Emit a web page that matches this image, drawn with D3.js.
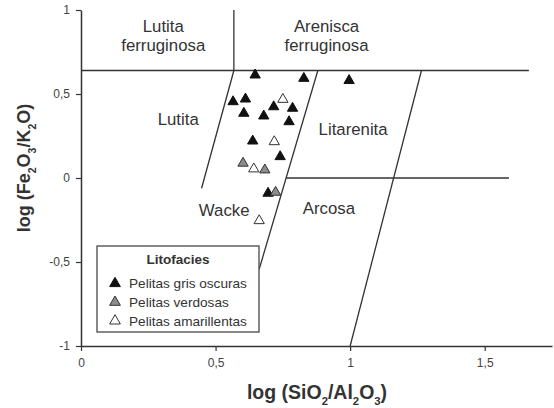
<!DOCTYPE html>
<html><head><meta charset="utf-8">
<script src="https://cdn.jsdelivr.net/npm/d3@7"></script>
<style>body{margin:0;background:#fff} svg{display:block;font-family:"Liberation Sans",Arial,sans-serif}</style>
</head><body><svg id="c" width="554" height="408"></svg>
<script>
const xTicks = [0, 0.5, 1, 1.5];
const xTickLabels = ["0", "0,5", "1", "1,5"];
const yTicks = [1, 0.5, 0, -0.5, -1];
const yTickLabels = ["1", "0,5", "0", "-0,5", "-1"];
const seriesNames = ["Pelitas gris oscuras", "Pelitas verdosas", "Pelitas amarillentas"];

const grisX = [0.647, 0.828, 0.996, 0.565, 0.611, 0.605, 0.679, 0.716, 0.786, 0.773, 0.638, 0.740, 0.695];
const grisY = [0.613, 0.593, 0.580, 0.454, 0.470, 0.385, 0.369, 0.424, 0.415, 0.335, 0.220, 0.127, -0.091];
const verdX = [0.602, 0.683, 0.723];
const verdY = [0.088, 0.048, -0.085];
const amarX = [0.750, 0.718, 0.642, 0.662];
const amarY = [0.468, 0.216, 0.054, -0.254];

// classification field boundaries (data units)
const boundaries = [
  [[0, 0.64], [1.664, 0.64]],
  [[0.568, 1], [0.568, 0.64]],
  [[0.568, 0.64], [0.448, -0.061]],
  [[0.88, 0.64], [0.662, -0.543]],
  [[1.265, 0.64], [1.0, -1]],
  [[0.762, 0], [1.59, 0]]
];
const regionNames = ["Lutita", "ferruginosa", "Arenisca", "ferruginosa", "Lutita", "Litarenita", "Wacke", "Arcosa"];
const regionX = [0.3056, 0.3056, 0.9123, 0.9123, 0.3613, 1.011, 0.532, 0.921];
const regionY = [0.8667, 0.756, 0.8667, 0.756, 0.3155, 0.256, -0.2244, -0.2143];

const svg = d3.select("#c");
const W = 554, H = 408;
const m = {left: 81, top: 10, right: 2, bottom: 62};
const x = d3.scaleLinear().domain([0, 1.75]).range([m.left, W - m.right]);
const y = d3.scaleLinear().domain([-1, 1]).range([H - m.bottom, m.top]);

// boundaries
const line = d3.line().x(d => x(d[0])).y(d => y(d[1]));
svg.append("g").selectAll("path").data(boundaries).join("path")
  .attr("d", line).attr("fill", "none").attr("stroke", "#333").attr("stroke-width", 1.3);

// region labels
svg.append("g").selectAll("text").data(regionNames).join("text")
  .attr("x", (d, i) => x(regionX[i])).attr("y", (d, i) => y(regionY[i]))
  .attr("text-anchor", "middle").attr("font-size", 16.8).attr("fill", "#333").text(d => d);

// axes
const xAxis = d3.axisBottom(x).tickValues(xTicks).tickFormat((d, i) => xTickLabels[i])
  .tickSizeInner(5).tickSizeOuter(0).tickPadding(7);
const yAxis = d3.axisLeft(y).tickValues(yTicks).tickFormat((d, i) => yTickLabels[i])
  .tickSizeInner(5).tickSizeOuter(0).tickPadding(6);
const gx = svg.append("g").attr("transform", `translate(0,${y(-1)})`).call(xAxis);
const gy = svg.append("g").attr("transform", `translate(${x(0)},0)`).call(yAxis);
[gx, gy].forEach(g => {
  g.select(".domain").attr("stroke", "#333").attr("stroke-width", 1.5);
  g.selectAll(".tick line").attr("stroke", "#333").attr("stroke-width", 1.2);
  g.selectAll(".tick text").attr("fill", "#444").attr("font-size", 12)
    .attr("font-family", "Liberation Sans, Arial, sans-serif");
});

// points
const tri = d3.symbol().type(d3.symbolTriangle).size(46);
function drawSeries(xs, ys, fill, stroke) {
  svg.append("g").selectAll("path").data(xs).join("path")
    .attr("d", tri).attr("transform", (d, i) => `translate(${x(d)},${y(ys[i])})`)
    .attr("fill", fill).attr("stroke", stroke).attr("stroke-width", 1);
}
const styles = [["#111", "#111"], ["#8c8c8c", "#333"], ["#fff", "#333"]];
drawSeries(grisX, grisY, styles[0][0], styles[0][1]);
drawSeries(verdX, verdY, styles[1][0], styles[1][1]);
drawSeries(amarX, amarY, styles[2][0], styles[2][1]);

// legend
const lg = svg.append("g");
lg.append("rect").attr("x", 97).attr("y", 246).attr("width", 162).attr("height", 86)
  .attr("fill", "#fff").attr("stroke", "#555").attr("stroke-width", 1.4);
lg.append("text").attr("x", 178).attr("y", 264).attr("text-anchor", "middle")
  .attr("font-size", 13.5).attr("font-weight", "bold").attr("fill", "#333").text("Litofacies");
seriesNames.forEach((n, i) => {
  const cy = 283.5 + i * 18.7;
  lg.append("path").attr("d", d3.symbol().type(d3.symbolTriangle).size(50)())
    .attr("transform", `translate(115,${cy})`)
    .attr("fill", styles[i][0]).attr("stroke", styles[i][1]).attr("stroke-width", 1);
  lg.append("text").attr("x", 129).attr("y", cy + 4.8).attr("font-size", 13.6)
    .attr("fill", "#333").text(n);
});

// axis titles
const xt = svg.append("text").attr("x", 317).attr("y", 399).attr("text-anchor", "middle")
  .attr("font-size", 19.5).attr("font-weight", "bold").attr("fill", "#333");
function addSubText(t, parts) {
  parts.forEach(p => {
    if (p.startsWith("_")) {
      t.append("tspan").attr("font-size", "0.58em").attr("baseline-shift", "sub").text(p.slice(1));
    } else t.append("tspan").text(p);
  });
}
addSubText(xt, ["log (SiO", "_2", "/Al", "_2", "O", "_3", ")"]);
const yt = svg.append("text").attr("transform", "translate(30,168) rotate(-90)")
  .attr("text-anchor", "middle").attr("font-size", 18).attr("font-weight", "bold").attr("fill", "#333");
addSubText(yt, ["log (Fe", "_2", "O", "_3", "/K", "_2", "O)"]);
</script></body></html>
